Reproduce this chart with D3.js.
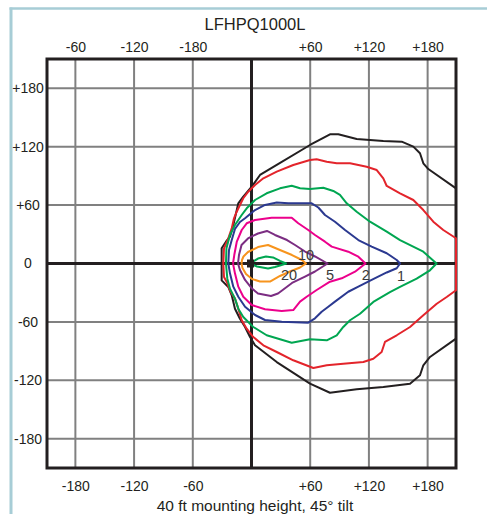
<!DOCTYPE html>
<html>
<head>
<meta charset="utf-8">
<script src="https://cdn.jsdelivr.net/npm/d3@7"></script>
<style>
html,body{margin:0;padding:0;background:#fff;}
svg{display:block;font-family:"Liberation Sans",Arial,Helvetica,sans-serif;}
</style>
</head>
<body>
<svg id="chart" width="487" height="514"></svg>
<script>
// ---- data (feet) ----
const title = "LFHPQ1000L";
const caption = "40 ft mounting height, 45\u00b0 tilt";
const gridValues = [-180, -120, -60, 60, 120, 180];
const xTickValues = [-180, -120, -60, 60, 120, 180];
const topTickLabels = ["-60", "-120", "-180", "+60", "+120", "+180"];
const bottomTickLabels = ["-180", "-120", "-60", "+60", "+120", "+180"];
const yTickValues = [180, 120, 60, 0, -60, -120, -180];
const yTickLabels = ["+180", "+120", "+60", "0", "-60", "-120", "-180"];

const contourLevels = ["0.1", "0.2", "0.5", "1", "2", "5", "10", "20"];
const contourColors = ["#231f20", "#e3242b", "#00a651", "#2b3990", "#ec008c", "#7b2d82", "#f7941d", "#00a651"];

const fc01 = [[-30.5,0],[-30.5,15.6],[-26.1,22.4],[-22,27.5],[-18.6,39.5],[-15.8,51.6],[-13.5,61.8],[-8.4,68.6],[0.2,78.9],[8.7,90.9],[25.8,101.2],[59.8,121.7],[80.2,132.7],[88.7,132.7],[107.5,127.9],[134.7,125.8],[153.5,125.1],[165.4,120],[172.2,113.2],[175.6,102.9],[180.7,97],[209,77.2],[209,-77.2],[182.4,-96],[175.6,-104.5],[172.2,-114.8],[162,-123.4],[134.7,-126.8],[107.5,-129.2],[80.2,-132.7],[59.8,-123.4],[25.8,-101.2],[3.6,-84],[-1.5,-75.5],[-6.6,-65.2],[-11.8,-56.7],[-16.9,-46.4],[-20.2,-32.7],[-23.7,-24.1],[-30.5,-17.3],[-30.5,0]];
const fc02 = [[-28.8,0],[-28.1,15.6],[-23.7,25.9],[-20.2,36.1],[-17.9,46.4],[-15.1,53.2],[-11.8,60.1],[-8.4,67],[-3.3,73.7],[3.6,80.6],[12.1,87.5],[25.8,94.3],[42.7,101.2],[59.8,106.3],[66.6,107],[76.9,104.5],[87.1,102.9],[100.7,102.9],[117.7,99.4],[128,96],[134.7,87.5],[138.2,79.6],[151.8,72.1],[165.4,65.2],[175.6,54.9],[185.8,42.9],[196,34.4],[209,25.9],[209,-27.5],[199.5,-34.4],[189.3,-41.3],[175.6,-53.2],[162,-65.2],[148.4,-73.7],[136.4,-80.6],[133,-90.9],[124.5,-97.8],[114.3,-101.2],[93.8,-102.9],[76.9,-104.5],[63.2,-107.3],[42.7,-99.4],[25.8,-90.9],[12.1,-84],[1.8,-75.5],[-4.9,-67],[-10,-58.3],[-13.5,-46.4],[-16.9,-36.1],[-21.3,-29.3],[-25.3,-19],[-28.1,-13.9],[-28.8,0]];
const fc05 = [[-26.1,0],[-25.6,15.6],[-22,29.3],[-16.9,39.5],[-10,49.8],[-4.9,56.7],[3.6,65.2],[15.5,72.1],[29.1,77.2],[41.1,79.9],[49.6,77.2],[59.8,76.5],[73.4,77.8],[83.6,74.5],[90.4,70.4],[97.3,61.8],[107.5,53.2],[121.1,42.9],[138.2,32.7],[151.8,24.1],[175.6,12.1],[189.1,0],[182.4,-7],[168.8,-15.6],[151.8,-24.1],[141.5,-29.3],[124.5,-39.5],[110.9,-51.6],[100.7,-58.3],[93.8,-65.2],[87.1,-73.7],[76.9,-78.9],[59.8,-77.8],[41.1,-81.3],[15.5,-73.7],[1.8,-65.2],[-8.4,-54.9],[-13.5,-46.4],[-16.9,-36.1],[-22,-25.9],[-24.7,-15.6],[-26.1,0]];
const fc1 = [[-23.7,0],[-23,13.9],[-20.2,24.1],[-16.9,35.4],[-11.8,42.6],[-6.6,46.4],[3.6,54.9],[13.8,60.1],[25.8,62.6],[37.6,61.8],[61.5,61.8],[68.3,57.5],[75.1,49.8],[85.3,42.9],[95.6,34.4],[109.2,24.1],[122.8,17.3],[138.2,10.5],[148.4,3.6],[151.8,0],[148.4,-4.9],[138.2,-9.2],[122.8,-16.9],[109.2,-23.8],[98.9,-29],[85.3,-39.2],[78.5,-44.4],[71.7,-49.5],[64.9,-56.3],[58,-60.8],[30.9,-59.8],[13.8,-58],[3.6,-52.9],[-6.6,-44.4],[-13.5,-34.1],[-18.6,-23.8],[-22,-10.1],[-23.7,0]];
const fc2 = [[-18.9,0],[-17.6,8.7],[-15.1,22.1],[-10,34.4],[-4.9,41.3],[3.6,44.7],[20.6,47],[41.1,47],[47.8,41.3],[58,34.4],[64.9,29.3],[75.1,22.4],[82,17.3],[98.9,12.1],[109.2,7],[116.5,0],[105.8,-8.4],[92.2,-15.2],[80.2,-18.7],[66.6,-27.2],[56.4,-34.1],[49.6,-39.2],[42.7,-47.8],[30.9,-48.8],[13.8,-47],[0.2,-42.6],[-8.4,-34.1],[-13.5,-23.8],[-16.9,-10.1],[-18.9,0]];
const fc5 = [[-13.8,0],[-12.8,8.7],[-10.2,19],[-3.6,25.7],[6.6,30.8],[15.8,33.4],[24,29.3],[36.3,24.1],[44.5,19],[54.7,12.3],[64.9,7.2],[77.7,0],[64.9,-8.2],[54.7,-13.4],[41.4,-20],[27.1,-30.8],[19.9,-33.4],[6.6,-30.8],[0.5,-25.7],[-6.6,-16.9],[-11.8,-6.7],[-13.8,0]];
const fc10 = [[-10.2,0],[-9.7,3.6],[-8.2,7.2],[-3.6,11.8],[6.6,16.9],[16.9,19],[29.1,13.9],[41.4,8.7],[51.6,3.6],[55.7,0],[49.6,-4.1],[39.3,-8.2],[29.1,-12.8],[18.9,-18.5],[8.7,-18.5],[0.5,-15.9],[-5.6,-10.8],[-9.2,-4.6],[-10.2,0]];
const fc20 = [[-1.5,0],[6.6,5.1],[14.8,7.2],[22,6.2],[29.1,2.6],[35.3,0],[29.1,-2.1],[24,-3.6],[16.9,-5.1],[5.6,-3.1],[-1.5,0]];

const labelTexts = ["20", "10", "5", "2", "1"];
const labelX = [38.3, 55.7, 80.2, 116.7, 152.8];
const labelY = [-11.8, 8.7, -11.3, -11.8, -12.3];

// ---- drawing ----
const svg = d3.select("#chart");
const x = d3.scaleLinear().domain([-209, 209]).range([47, 456]);
const y = d3.scaleLinear().domain([210, -210]).range([59, 468]);

// light blue frame
svg.append("line").attr("x1", 11).attr("x2", 11).attr("y1", 7.5).attr("y2", 514)
  .attr("stroke", "#a7cdd6").attr("stroke-width", 3);
svg.append("line").attr("x1", 9.5).attr("x2", 487).attr("y1", 8.5).attr("y2", 8.5)
  .attr("stroke", "#a7cdd6").attr("stroke-width", 2.5);

// grid
const g = svg.append("g");
g.selectAll("line.gx").data(gridValues).join("line")
  .attr("x1", d => x(d)).attr("x2", d => x(d)).attr("y1", y(210)).attr("y2", y(-210))
  .attr("stroke", "#808080").attr("stroke-width", 2);
g.selectAll("line.gy").data(gridValues).join("line")
  .attr("y1", d => y(d)).attr("y2", d => y(d)).attr("x1", x(-209)).attr("x2", x(209))
  .attr("stroke", "#808080").attr("stroke-width", 2);
// centre axes
g.append("line").attr("x1", x(0)).attr("x2", x(0)).attr("y1", y(210)).attr("y2", y(-210))
  .attr("stroke", "#231f20").attr("stroke-width", 3);
g.append("line").attr("y1", y(0)).attr("y2", y(0)).attr("x1", x(-209)).attr("x2", x(209))
  .attr("stroke", "#231f20").attr("stroke-width", 3);
// border
g.append("rect").attr("x", x(-209)).attr("y", y(210))
  .attr("width", x(209) - x(-209)).attr("height", y(-210) - y(210))
  .attr("fill", "none").attr("stroke", "#231f20").attr("stroke-width", 3);

// contours
const line = d3.line().x(d => x(d[0])).y(d => y(d[1]));
const contours = [fc01, fc02, fc05, fc1, fc2, fc5, fc10, fc20];
svg.append("g").selectAll("path").data(contours).join("path")
  .attr("d", line)
  .attr("fill", "none")
  .attr("stroke", (d, i) => contourColors[i])
  .attr("stroke-width", 2)
  .attr("stroke-linejoin", "round");

// luminaire marker
svg.append("rect").attr("x", x(0) - 4.5).attr("y", y(0) - 4).attr("width", 7).attr("height", 8)
  .attr("fill", "#231f20");

// contour labels
svg.append("g").selectAll("text").data(labelTexts).join("text")
  .attr("x", (d, i) => x(labelX[i])).attr("y", (d, i) => y(labelY[i]))
  .attr("dy", "0.35em")
  .attr("text-anchor", "middle")
  .attr("font-size", 14.5)
  .attr("fill", "#3a3a3a")
  .text(d => d);

// axes
const topAxis = d3.axisTop(x).tickValues(xTickValues).tickSize(0).tickPadding(7.5)
  .tickFormat((d, i) => topTickLabels[i]);
const bottomAxis = d3.axisBottom(x).tickValues(xTickValues).tickSize(0).tickPadding(13)
  .tickFormat((d, i) => bottomTickLabels[i]);
const leftAxis = d3.axisLeft(y).tickValues(yTickValues).tickSize(0).tickPadding(19)
  .tickFormat((d, i) => yTickLabels[i]);

function styleAxis(sel) {
  sel.select(".domain").remove();
  sel.selectAll("text").attr("font-size", 14).attr("fill", "#231f20")
    .attr("font-family", "'Liberation Sans',Arial,Helvetica,sans-serif");
}
svg.append("g").attr("transform", `translate(0,${y(210)})`).call(topAxis).call(styleAxis);
svg.append("g").attr("transform", `translate(0,${y(-210)})`).call(bottomAxis).call(styleAxis);
const la = svg.append("g").attr("transform", `translate(${x(-209)},0)`).call(leftAxis).call(styleAxis);
la.selectAll("text").attr("text-anchor", "middle");

// title and caption
svg.append("text").attr("x", 255).attr("y", 30).attr("text-anchor", "middle")
  .attr("font-size", 16.5).attr("fill", "#231f20").text(title);
svg.append("text").attr("x", 255).attr("y", 511).attr("text-anchor", "middle")
  .attr("font-size", 15.5).attr("fill", "#231f20").text(caption);
</script>
</body>
</html>
